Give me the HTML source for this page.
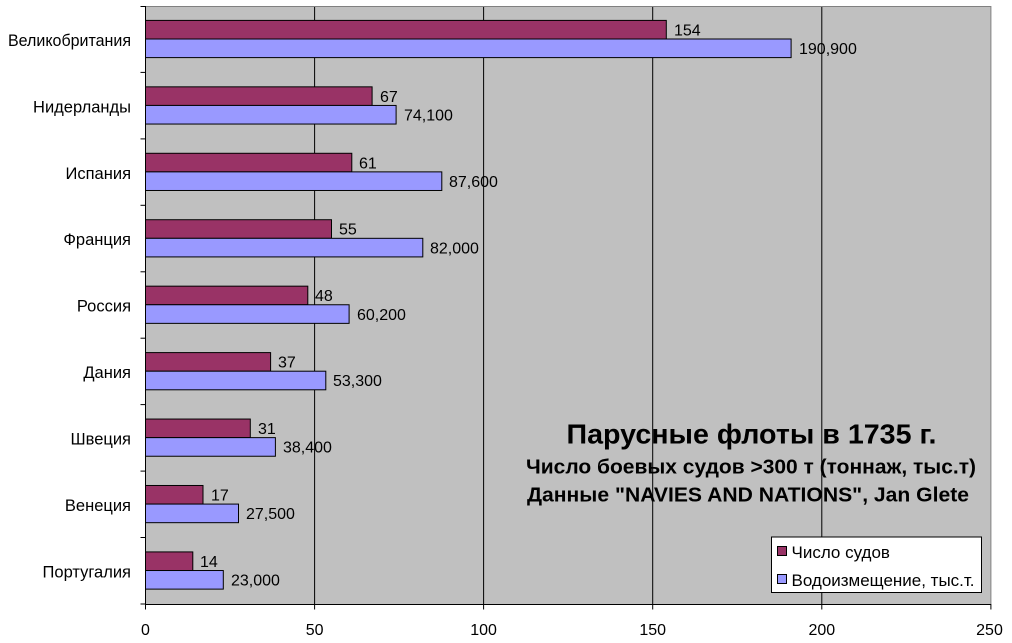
<!DOCTYPE html>
<html>
<head>
<meta charset="utf-8">
<style>
html,body{margin:0;padding:0;background:#fff;}
svg{display:block;}
text{font-family:"Liberation Sans",Arial,sans-serif;fill:#000;}
</style>
</head>
<body>
<svg width="1012" height="643" viewBox="0 0 1012 643" xmlns="http://www.w3.org/2000/svg">
<rect x="0" y="0" width="1012" height="643" fill="#fff"/>
<!-- plot area -->
<rect x="145.5" y="6" width="845.4" height="598" fill="#C0C0C0"/>
<!-- gridlines -->
<g stroke="#000" stroke-width="1">
<line x1="314.6" y1="6" x2="314.6" y2="604"/>
<line x1="483.6" y1="6" x2="483.6" y2="604"/>
<line x1="652.7" y1="6" x2="652.7" y2="604"/>
<line x1="821.8" y1="6" x2="821.8" y2="604"/>
</g>
<!-- plot border top/right -->
<polyline points="145.5,6.5 990.9,6.5 990.9,604" fill="none" stroke="#808080" stroke-width="1"/>

<!-- bars -->
<g stroke="#000" stroke-width="1">
<rect x="145.5" y="20.4" width="520.8" height="18.6" fill="#993366"/>
<rect x="145.5" y="39.0" width="645.6" height="18.6" fill="#9999FF"/>
<rect x="145.5" y="86.84" width="226.6" height="18.6" fill="#993366"/>
<rect x="145.5" y="105.44" width="250.6" height="18.6" fill="#9999FF"/>
<rect x="145.5" y="153.28" width="206.3" height="18.6" fill="#993366"/>
<rect x="145.5" y="171.88" width="296.3" height="18.6" fill="#9999FF"/>
<rect x="145.5" y="219.72" width="186.0" height="18.6" fill="#993366"/>
<rect x="145.5" y="238.32" width="277.3" height="18.6" fill="#9999FF"/>
<rect x="145.5" y="286.16" width="162.3" height="18.6" fill="#993366"/>
<rect x="145.5" y="304.76" width="203.6" height="18.6" fill="#9999FF"/>
<rect x="145.5" y="352.6" width="125.1" height="18.6" fill="#993366"/>
<rect x="145.5" y="371.2" width="180.3" height="18.6" fill="#9999FF"/>
<rect x="145.5" y="419.04" width="104.8" height="18.6" fill="#993366"/>
<rect x="145.5" y="437.64" width="129.9" height="18.6" fill="#9999FF"/>
<rect x="145.5" y="485.48" width="57.5" height="18.6" fill="#993366"/>
<rect x="145.5" y="504.08" width="93.0" height="18.6" fill="#9999FF"/>
<rect x="145.5" y="551.92" width="47.3" height="18.6" fill="#993366"/>
<rect x="145.5" y="570.52" width="77.8" height="18.6" fill="#9999FF"/>
</g>

<!-- axes -->
<g stroke="#000" stroke-width="1">
<line x1="145.5" y1="6" x2="145.5" y2="604.5"/>
<line x1="145.5" y1="604.5" x2="991" y2="604.5"/>
<!-- y ticks -->
<line x1="140.5" y1="6.5" x2="145.5" y2="6.5"/>
<line x1="140.5" y1="72.4" x2="145.5" y2="72.4"/>
<line x1="140.5" y1="138.9" x2="145.5" y2="138.9"/>
<line x1="140.5" y1="205.3" x2="145.5" y2="205.3"/>
<line x1="140.5" y1="271.8" x2="145.5" y2="271.8"/>
<line x1="140.5" y1="338.2" x2="145.5" y2="338.2"/>
<line x1="140.5" y1="404.6" x2="145.5" y2="404.6"/>
<line x1="140.5" y1="471.1" x2="145.5" y2="471.1"/>
<line x1="140.5" y1="537.5" x2="145.5" y2="537.5"/>
<line x1="140.5" y1="604" x2="145.5" y2="604"/>
<!-- x ticks -->
<line x1="145.5" y1="604" x2="145.5" y2="609.5"/>
<line x1="314.6" y1="604" x2="314.6" y2="609.5"/>
<line x1="483.6" y1="604" x2="483.6" y2="609.5"/>
<line x1="652.7" y1="604" x2="652.7" y2="609.5"/>
<line x1="821.8" y1="604" x2="821.8" y2="609.5"/>
<line x1="990.9" y1="604" x2="990.9" y2="609.5"/>
</g>

<!-- category labels -->
<g font-size="16.5" text-anchor="end">
<text x="131" y="46" textLength="123" lengthAdjust="spacingAndGlyphs">Великобритания</text>
<text x="131" y="112.4">Нидерланды</text>
<text x="131" y="178.8">Испания</text>
<text x="131" y="245.2">Франция</text>
<text x="131" y="311.7">Россия</text>
<text x="131" y="378.1">Дания</text>
<text x="131" y="444.6">Швеция</text>
<text x="131" y="511.0">Венеция</text>
<text x="131" y="577.4">Португалия</text>
</g>

<!-- x labels -->
<g font-size="16" text-anchor="middle">
<text x="145.5" y="635">0</text>
<text x="314.6" y="635">50</text>
<text x="483.6" y="635">100</text>
<text x="652.7" y="635">150</text>
<text x="821.8" y="635">200</text>
<text x="989.5" y="635">250</text>
</g>

<!-- value labels -->
<g font-size="16">
<text x="674" y="35.4">154</text>
<text x="799" y="54.0">190,900</text>
<text x="380" y="101.8">67</text>
<text x="404" y="120.4">74,100</text>
<text x="359" y="168.3">61</text>
<text x="449" y="186.9">87,600</text>
<text x="339" y="234.7">55</text>
<text x="430" y="253.3">82,000</text>
<text x="315" y="301.2">48</text>
<text x="357" y="319.8">60,200</text>
<text x="278" y="367.6">37</text>
<text x="333" y="386.2">53,300</text>
<text x="258" y="434.0">31</text>
<text x="283" y="452.6">38,400</text>
<text x="211" y="500.5">17</text>
<text x="246" y="519.1">27,500</text>
<text x="200" y="566.9">14</text>
<text x="231" y="585.5">23,000</text>
</g>

<!-- title -->
<g font-weight="bold">
<text x="566.5" y="443.5" font-size="28" textLength="370" lengthAdjust="spacingAndGlyphs">Парусные флоты в 1735 г.</text>
<text x="526" y="473.5" font-size="20" textLength="450" lengthAdjust="spacingAndGlyphs">Число боевых судов &gt;300 т (тоннаж, тыс.т)</text>
<text x="527" y="501.5" font-size="20" textLength="442" lengthAdjust="spacingAndGlyphs">Данные "NAVIES AND NATIONS", Jan Glete</text>
</g>

<!-- legend -->
<rect x="771.5" y="537" width="210" height="55.5" fill="#fff" stroke="#000" stroke-width="1"/>
<rect x="777.5" y="546.5" width="9" height="9" fill="#993366" stroke="#000" stroke-width="1"/>
<rect x="777.5" y="574.5" width="9" height="9" fill="#9999FF" stroke="#000" stroke-width="1"/>
<g font-size="17">
<text x="791.5" y="558">Число судов</text>
<text x="791.5" y="586" textLength="183" lengthAdjust="spacingAndGlyphs">Водоизмещение, тыс.т.</text>
</g>
</svg>
</body>
</html>
